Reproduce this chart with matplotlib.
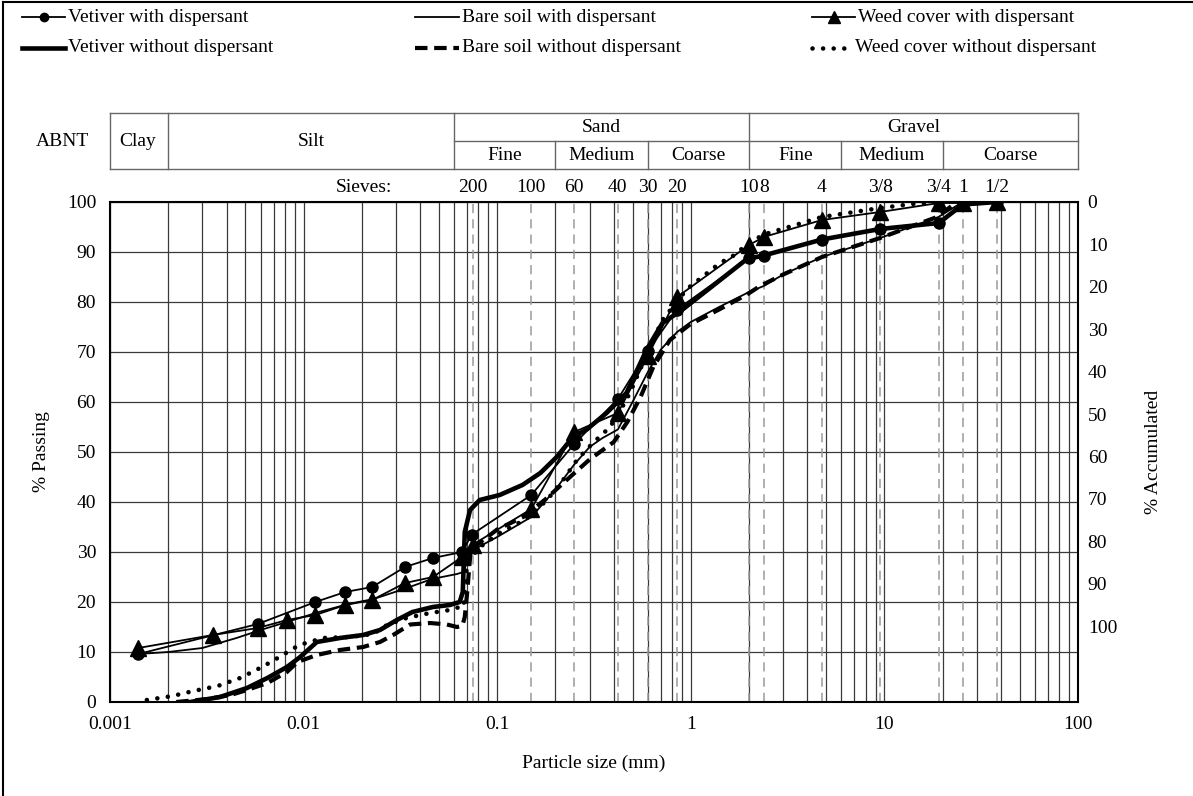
import matplotlib
matplotlib.use("Agg")
from matplotlib import pyplot as plt
from matplotlib.lines import Line2D
import matplotlib.transforms as mtransforms
import numpy as np

plt.rcParams['font.family'] = ['Liberation Serif', 'DejaVu Serif']
plt.rcParams['font.size'] = 14

#########################################################
# DATA
#########################################################
# sieve openings (mm) and their labels
sieve_mm = [0.075, 0.15, 0.25, 0.42, 0.6, 0.85, 2.0, 2.38, 4.76, 9.5, 19.1, 25.4, 38.1]
sieve_lbl = ["200", "100", "60", "40", "30", "20", "10", "8", "4", "3/8", "3/4", "1", "1/2"]

# ABNT classes: boundaries (mm)
abnt_bounds = [0.001, 0.002, 0.06, 2.0, 100]
abnt_main = ["Clay", "Silt", "Sand", "Gravel"]
abnt_sub_bounds = [0.06, 0.2, 0.6, 2.0, 6.0, 20.0, 100]
abnt_sub = ["Fine", "Medium", "Coarse", "Fine", "Medium", "Coarse"]

# Vetiver with dispersant (circles)
vet_d_x = [0.0014, 0.0058, 0.0115, 0.0164, 0.0226, 0.0334, 0.0466, 0.0658, 0.074, 0.15, 0.25, 0.42, 0.6, 0.85,
           2.0, 2.38, 4.76, 9.5, 19.1, 25.4, 38.1]
vet_d_y = [9.6, 15.6, 20.0, 22.0, 23.0, 27.0, 28.8, 30.0, 33.5, 41.4, 51.6, 60.6, 70.2, 78.5,
           88.8, 89.3, 92.5, 94.6, 95.9, 99.6, 100]

# Vetiver without dispersant (thick)
vet_n_x = [0.0026, 0.0037, 0.0051, 0.0065, 0.0082, 0.0096, 0.0117, 0.0154, 0.0203, 0.0248, 0.0303, 0.0365,
           0.0465, 0.0568, 0.064, 0.0664, 0.068, 0.0724, 0.0812, 0.103, 0.135, 0.167, 0.203, 0.246, 0.29,
           0.367, 0.465, 0.5, 0.59, 0.714, 0.9, 1.95, 2.38, 4.76, 9.5, 19.1, 25.4, 38.1]
vet_n_y = [0, 1.0, 2.8, 4.8, 7.0, 9.0, 12.0, 12.8, 13.4, 14.4, 16.4, 18.0,
           19.0, 19.4, 20.0, 22.0, 34.0, 38.4, 40.4, 41.4, 43.4, 45.8, 49.0, 53.0, 54.5,
           57.8, 61.8, 64.4, 70.4, 75.8, 78.4, 88.6, 89.3, 92.5, 94.6, 95.8, 99.5, 100]

# Bare soil with dispersant (thin)
bare_d_x = [0.0014, 0.002, 0.003, 0.0045, 0.006, 0.0085, 0.012, 0.017, 0.023, 0.033, 0.046, 0.062, 0.067,
            0.069, 0.072, 0.08, 0.1, 0.15, 0.2, 0.25, 0.3, 0.35, 0.42, 0.5, 0.6, 0.7, 0.85, 1.0, 1.4,
            2.0, 2.38, 3.0, 4.76, 9.5, 19.0, 25.4]
bare_d_y = [9.6, 10.0, 10.8, 12.8, 14.4, 16.2, 18.0, 19.6, 20.6, 22.6, 24.6, 25.6, 26.0,
            27.5, 30.0, 31.0, 33.0, 37.0, 42.5, 47.5, 51.0, 52.8, 54.5, 60.0, 66.0, 70.5, 74.0, 76.0, 79.0,
            82.0, 83.2, 85.5, 89.0, 92.8, 97.0, 100]

# Bare soil without dispersant (dashed)
bare_n_x = [0.0022, 0.0032, 0.0042, 0.0051, 0.0065, 0.0082, 0.0093, 0.0117, 0.0154, 0.0203, 0.0248, 0.029,
            0.0355, 0.045, 0.055, 0.062, 0.066, 0.068, 0.070, 0.073, 0.1, 0.136, 0.177, 0.23, 0.30, 0.40,
            0.47, 0.55, 0.64, 0.78, 0.99, 1.4, 1.95, 2.28, 3.0, 4.76, 9.5, 18.7, 22.6, 26.0]
bare_n_y = [0, 0.6, 1.4, 2.4, 3.8, 6.0, 8.0, 9.4, 10.4, 11.0, 12.0, 13.4,
            15.5, 15.8, 15.5, 15.0, 15.2, 17.0, 22.0, 30.5, 34.5, 37.0, 40.5, 44.5, 48.5, 52.0,
            56.0, 61.0, 67.0, 72.4, 75.5, 78.5, 81.5, 83.2, 85.5, 89.0, 92.8, 97.0, 99.4, 100]

# Weed cover with dispersant (triangles)
weed_d_x = [0.0014, 0.0034, 0.0058, 0.0082, 0.0115, 0.0164, 0.0226, 0.0334, 0.0466, 0.0658, 0.075, 0.15,
            0.25, 0.42, 0.6, 0.85, 2.0, 2.38, 4.76, 9.5, 19.1, 25.4, 38.1]
weed_d_y = [10.8, 13.4, 14.8, 16.4, 17.4, 19.4, 20.4, 23.8, 25.0, 29.0, 31.5, 38.6,
            54.0, 57.8, 69.2, 81.0, 91.4, 93.0, 96.4, 98.0, 99.8, 99.8, 100]

# Weed cover without dispersant (dotted)
weed_n_x = [0.00155, 0.0021, 0.0027, 0.0036, 0.0047, 0.0061, 0.0075, 0.0095, 0.0126, 0.0174, 0.0228, 0.027,
            0.034, 0.045, 0.057, 0.064, 0.067, 0.070, 0.0815, 0.103, 0.14, 0.181, 0.219, 0.258, 0.312,
            0.383, 0.465, 0.5, 0.615, 0.714, 0.955, 1.415, 1.65, 2.0, 2.38, 4.76, 9.5, 14.0, 19.1]
weed_n_y = [0.4, 1.2, 2.2, 3.2, 4.8, 7.0, 9.0, 11.4, 12.8, 13.0, 13.6, 15.4,
            16.8, 17.8, 18.4, 19.0, 19.0, 28.0, 31.0, 33.8, 36.5, 40.4, 44.4, 48.4, 51.8,
            55.0, 60.4, 63.0, 71.0, 76.4, 82.6, 87.8, 89.2, 91.8, 93.5, 97.0, 98.8, 99.6, 100]

#########################################################
W, H = 1193, 796
fig = plt.figure(figsize=(W / 100, H / 100), dpi=100)

# overlay in pixel coords for frame / legend
ov = fig.add_axes([0, 0, 1, 1])
ov.set_xlim(0, W)
ov.set_ylim(H, 0)
ov.axis('off')

ax = fig.add_axes([110 / W, 1 - 702 / H, 968 / W, 500 / H])
ax.set_xscale('log')
ax.set_xlim(0.001, 100)
ax.set_ylim(0, 100)
ax.set_yticks(range(0, 101, 10))
ax.set_xticks([0.001, 0.01, 0.1, 1, 10, 100])
ax.set_xticklabels(["0.001", "0.01", "0.1", "1", "10", "100"])
minors = [m * 10.0 ** e for e in range(-3, 2) for m in range(2, 10)]
ax.set_xticks(minors, minor=True)
ax.set_xticklabels([], minor=True)
ax.tick_params(which='both', length=0)
ax.tick_params(axis='y', pad=10)
ax.tick_params(axis='x', pad=10)
ax.grid(which='both', axis='x', color='#3a3a3a', lw=0.9)
ax.grid(which='major', axis='y', color='#3a3a3a', lw=0.9)
ax.set_axisbelow(True)
for sp in ax.spines.values():
    sp.set_linewidth(1.5)

for s in sieve_mm:
    ax.axvline(s, color='#9a9a9a', ls=(0, (6, 4)), lw=1.1, zorder=1)

ax.set_xlabel("Particle size (mm)", labelpad=16)
ax.set_ylabel("% Passing", labelpad=12)

# curves
ax.plot(bare_n_x, bare_n_y, color='black', lw=3, ls=(0, (3, 1.6)), zorder=3)
ax.plot(weed_n_x, weed_n_y, color='black', lw=3.3, ls=(0, (0.01, 2.3)), dash_capstyle='round', zorder=3)
ax.plot(vet_n_x, vet_n_y, color='black', lw=3.3, zorder=3)
ax.plot(bare_d_x, bare_d_y, color='black', lw=1.3, zorder=4)
ax.plot(vet_d_x, vet_d_y, color='black', lw=1.3, marker='o', ms=8, zorder=5)
ax.plot(weed_d_x, weed_d_y, color='black', lw=1.3, marker='^', ms=11, zorder=5)

# right axis
ax2 = ax.twinx()
ax2.set_ylim(117.9, 0)
ax2.set_yticks(range(0, 101, 10))
ax2.tick_params(length=0, pad=7)
ax2.set_ylabel("% Accumulated", labelpad=20)
for sp in ax2.spines.values():
    sp.set_visible(False)

# ABNT table above the plot
tr = mtransforms.blended_transform_factory(ax.transData, ax.transAxes)
yt, ym, yb = 1.178, 1.122, 1.066
tcol = '#666666'
def tline(xs, ys):
    ax.add_line(Line2D(xs, ys, transform=tr, color=tcol, lw=1, clip_on=False))
tline([abnt_bounds[0], abnt_bounds[-1]], [yt, yt])
tline([abnt_bounds[0], abnt_bounds[-1]], [yb, yb])
tline([abnt_bounds[2], abnt_bounds[-1]], [ym, ym])
for b in abnt_bounds:
    tline([b, b], [yb, yt])
for b in abnt_sub_bounds[1:-1]:
    if b not in abnt_bounds:
        tline([b, b], [yb, ym])
for i, name in enumerate(abnt_main):
    xc = np.sqrt(abnt_bounds[i] * abnt_bounds[i + 1])
    yc = (yt + yb) / 2 if i < 2 else (yt + ym) / 2
    if i == 0:
        xc = np.sqrt(0.001 * 0.00195)
    ax.text(xc, yc, name, transform=tr, ha='center', va='center')
for i, name in enumerate(abnt_sub):
    xc = np.sqrt(abnt_sub_bounds[i] * abnt_sub_bounds[i + 1])
    ax.text(xc, (ym + yb) / 2, name, transform=tr, ha='center', va='center')
ov.text(62, 141, "ABNT", ha='center', va='center')

# sieve labels
ov.text(392, 187, "Sieves:", ha='right', va='center')
for s, l in zip(sieve_mm, sieve_lbl):
    ax.text(s, 1.03, l, transform=tr, ha='center', va='center')

# frame
ov.plot([3, 3], [2, H], color='black', lw=1.5)
ov.plot([3, W], [2, 2], color='black', lw=1.5)

# legend (drawn by hand)
def leg(x0, x1, y, text, **kw):
    xs = np.linspace(x0, x1, 3)
    ov.plot(xs, [y] * 3, color='black', **kw)
    ov.text(x1 + 3, y, text, ha='left', va='center')

leg(22, 65, 17, "Vetiver with dispersant", lw=1.3, marker='o', ms=6, markevery=[1])
leg(22, 65, 48, "Vetiver without dispersant", lw=3.3)
leg(415, 459, 17, "Bare soil with dispersant", lw=1.3)
leg(415, 459, 48, "Bare soil without dispersant", lw=3, ls=(0, (3, 1.6)))
leg(812, 855, 17, "Weed cover with dispersant", lw=1.3, marker='^', ms=9, markevery=[1])
leg(812, 852, 48, "Weed cover without dispersant", lw=3.3, ls=(0, (0.01, 2.3)), dash_capstyle='round')

fig.savefig("out.png", dpi=100)
